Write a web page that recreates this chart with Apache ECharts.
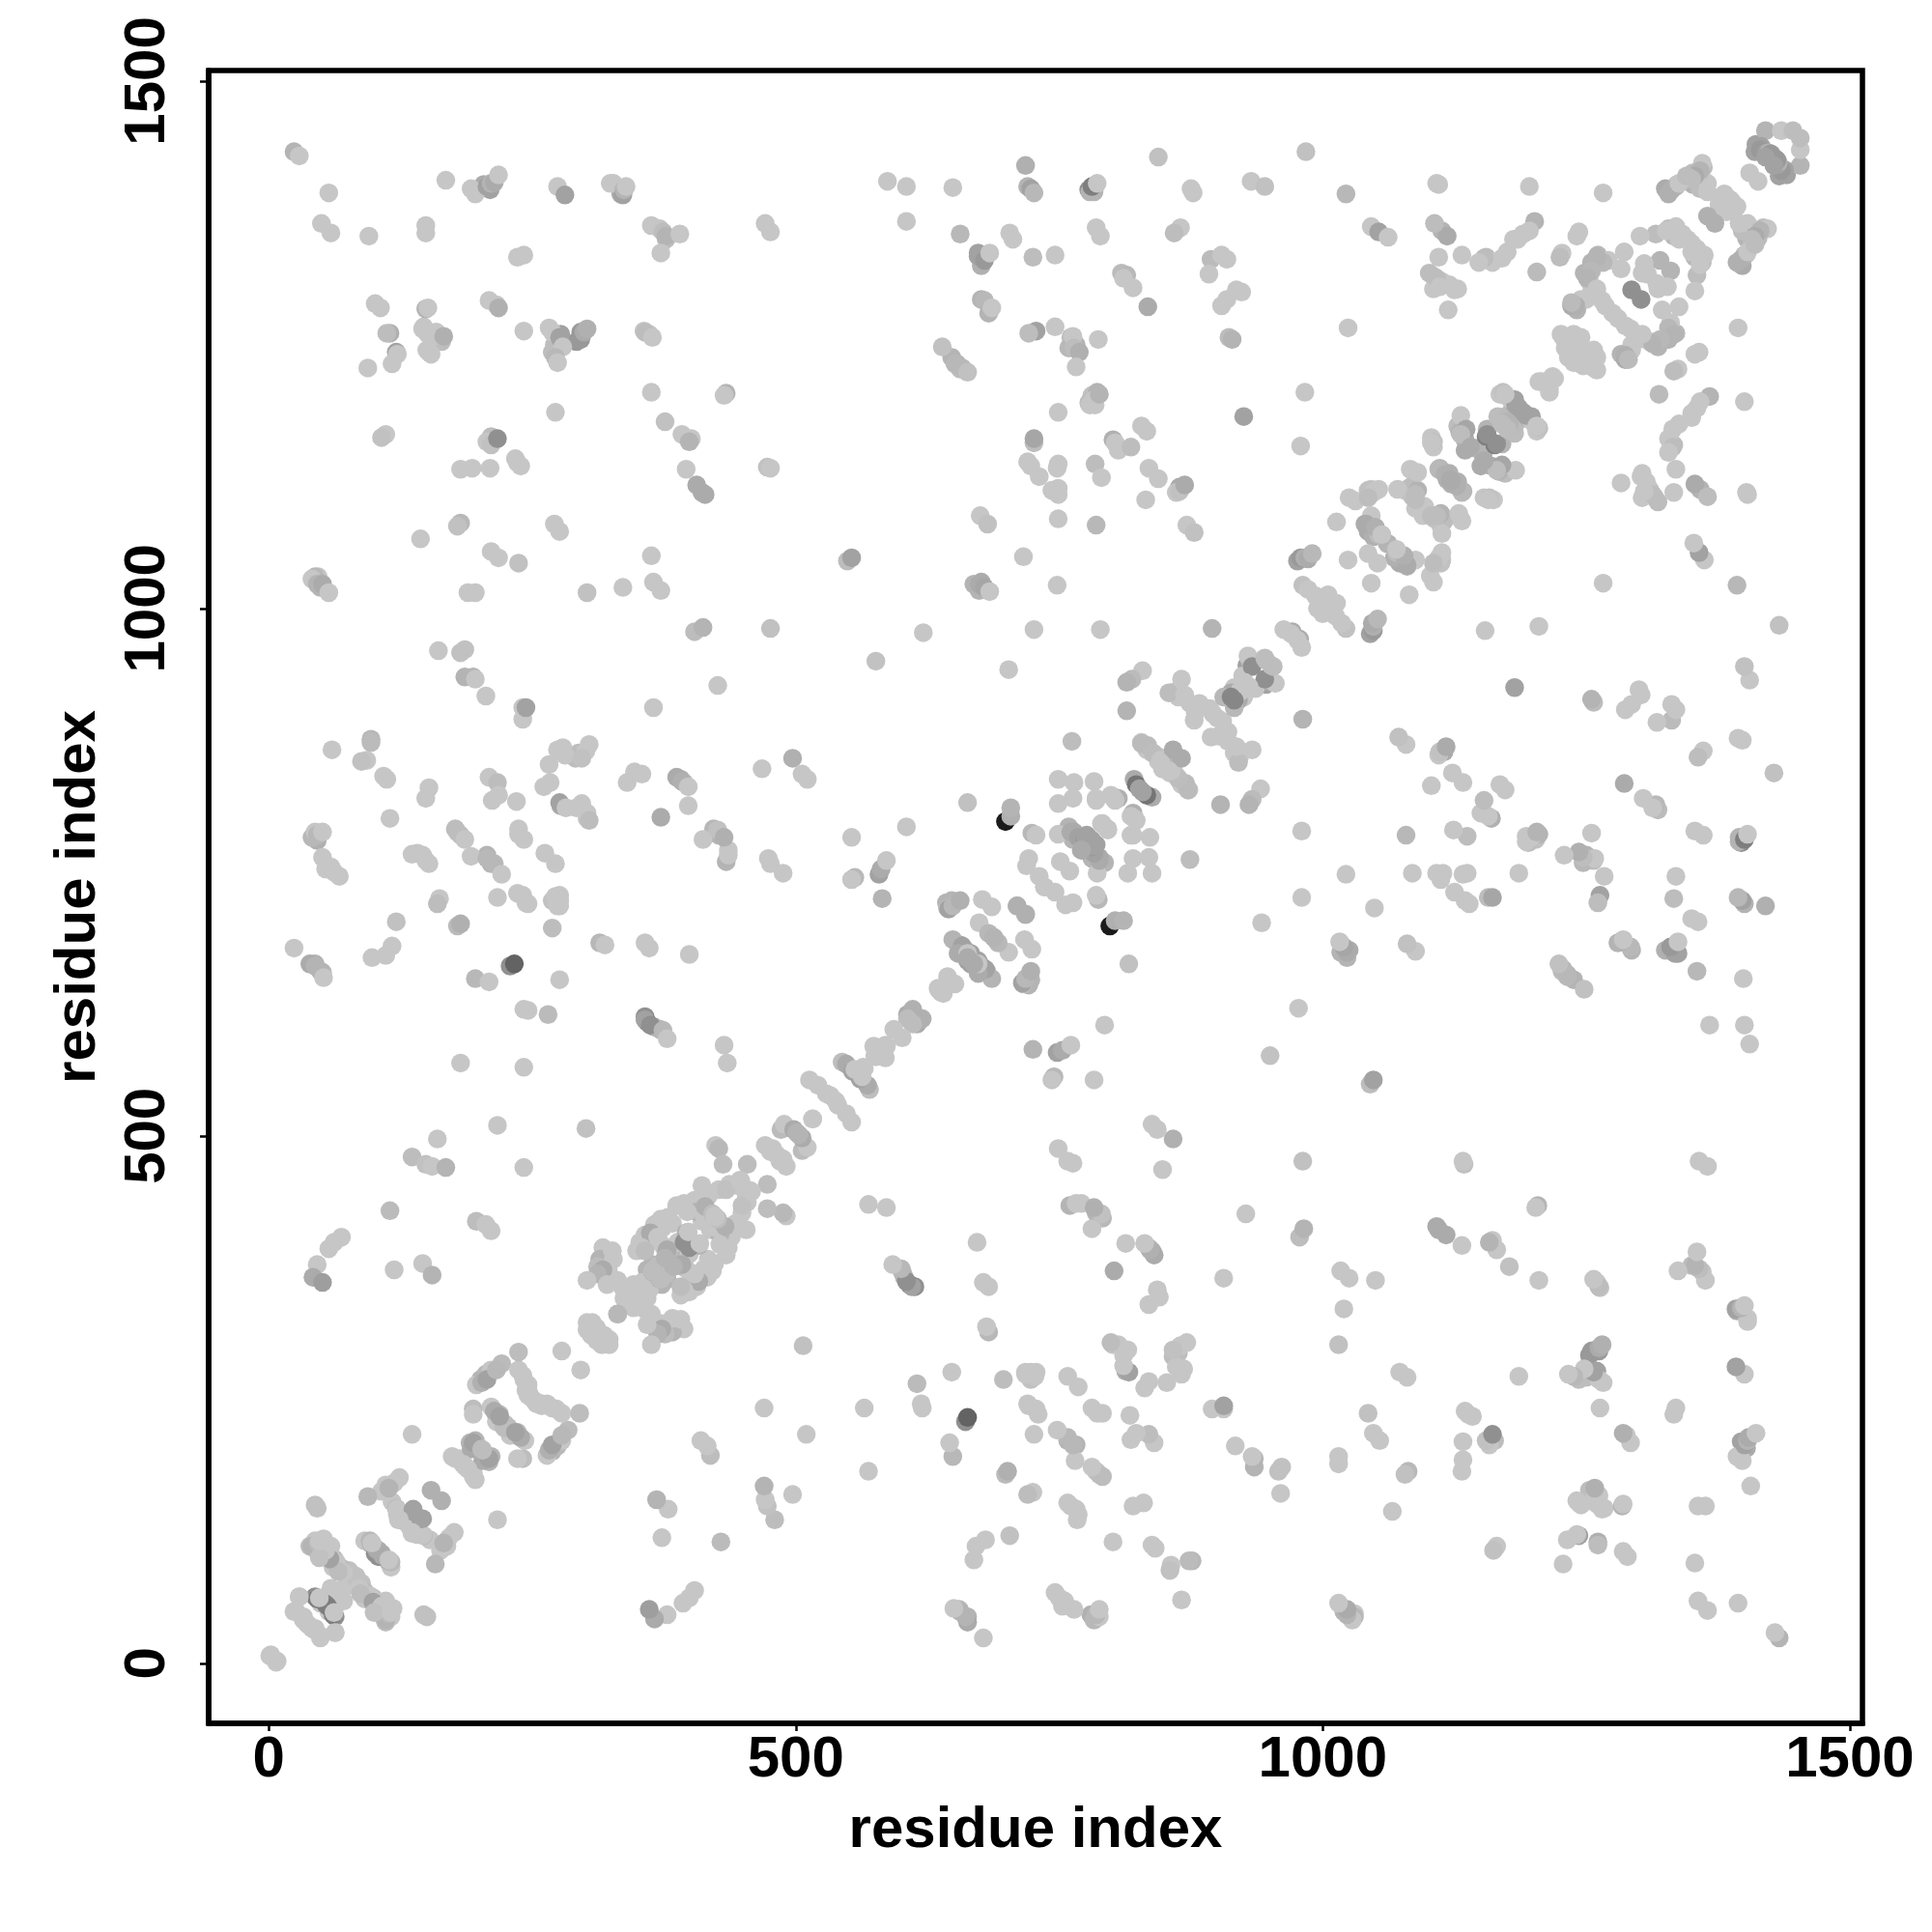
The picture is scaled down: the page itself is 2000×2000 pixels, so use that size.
<!DOCTYPE html>
<html><head><meta charset="utf-8">
<script src="https://cdn.jsdelivr.net/npm/echarts@6/dist/echarts.min.js"></script>
<style>html,body{margin:0;background:#fff}#c{width:2000px;height:2000px}</style></head>
<body><div id="c"></div>
<script>
const tickValues = [0, 500, 1000, 1500];
const axisTitle = 'residue index';
// contacts read as [i, j, score]; score omitted means lowest. The map is symmetric, so each is drawn at (i,j) and (j,i).
const contactsA = [[24,1433,.1],[29,1429],[57,1394],[50,1365],[59,1356],[95,1353],[149,1363],[149,1356],[168,1406],[192,1398],[196,1393],[207,1400,.2],[211,1403,.1],[214,1404,.15],[218,1411],[274,1400],[281,1392,.2],[324,1403],[336,1392,.2],[337,1397,.1],[339,1400],[363,1363],[374,1357,.05],[377,1353,.1],[390,1355],[372,1337],[236,1333],[242,1335],[101,1289],[106,1285],[149,1284,.1],[151,1285],[209,1292],[216,1288],[218,1285,.12],[115,1261,.12],[112,1261,.05],[146,1265],[151,1260],[157,1258],[166,1258,.12],[154,1241],[150,1245],[121,1243,.2],[122,1241],[117,1232],[94,1228],[242,1263],[266,1266],[269,1262],[276,1257,.2],[279,1248],[272,1238,.08],[274,1233],[296,1255,.25],[299,1262,.15],[302,1265,.12],[357,1262,.05],[364,1257],[363,1205],[434,1204,.1],[432,1202],[272,1186],[376,1177,.03],[392,1165],[401,1161],[399,1158,.1],[111,1165],[107,1162,.03],[211,1155,.03],[217,1161,.3],[234,1142],[239,1135],[236,1138],[182,1132],[193,1133],[210,1133],[396,1132],[406,1117,.15],[411,1110,.15],[414,1108,.15],[182,1081,.08],[179,1078,.03],[144,1066],[271,1080],[276,1073],[211,1054],[218,1048],[237,1043,.03],[363,1050],[41,1028],[46,1023,.1],[51,1023,.15],[57,1015],[189,1015],[196,1015],[302,1015,.03],[336,1020],[365,1025],[372,1017]];
const contactsB = [[471,1365],[476,1357],[473,1134,.03],[476,1133],[587,1405],[605,1400],[649,1399],[605,1367],[718,1420,.12],[720,1400,.1],[723,1398,.2],[726,1394,.08],[783,1395,.1],[781,1400,.4],[786,1403],[844,1428,.03],[875,1398],[877,1394],[932,1405],[945,1400,.03],[984,1433,.03],[656,1355,.08],[703,1356],[706,1350],[673,1334,.2],[679,1330,.25],[684,1337],[725,1333,.05],[746,1335],[785,1361],[789,1353],[865,1361],[859,1356,.05],[814,1316,.08],[811,1313],[820,1304],[834,1286,.15],[894,1331,.06],[904,1335],[909,1331],[892,1317],[918,1302],[923,1300],[909,1293],[904,1287],[679,1292,.08],[684,1283,.1],[686,1285],[728,1263,.2],[721,1261,.05],[746,1267],[763,1258],[764,1247,.05],[769,1243,.12],[766,1229],[787,1255],[911,1257,.05],[914,1255,.1],[639,1248,.03],[651,1232,.08],[658,1228,.08],[663,1224,.03],[779,1193],[783,1198],[788,1203,.1],[749,1186],[925,1182,.2],[983,1205],[726,1157,.05],[726,1161,.18],[828,1173],[833,1168],[801,1160,.12],[803,1157],[806,1150],[818,1153,.05],[979,1154],[720,1139],[723,1135],[731,1125],[749,1137],[748,1133],[749,1114],[743,1112],[749,1108],[784,1137,.05],[790,1124],[835,1133],[844,1123],[832,1103],[864,1111,.03],[869,1117,.15],[675,1088],[682,1080,.03],[749,1085],[785,1079,.08],[871,1079],[878,1072,.03],[549,1045,.05],[553,1048,.2],[716,1049],[674,1023,.15],[679,1020,.18],[684,1016],[748,1022]];
const contactsC = [[976,1045,.2],[979,1048,.25],[983,1048,.12],[986,1047,.15],[990,1052,.08],[981,1022,.03],[986,1018],[1022,1393,.08],[1108,1403],[1110,1402],[1196,1400],[1266,1394],[1420,1453,.1],[1435,1453],[1446,1453,.05],[1416,1438,.2],[1415,1435,.25],[1421,1432,.2],[1423,1432,.1],[1426,1430,.2],[1431,1425,.25],[1420,1428,.2],[1405,1413],[1360,1422],[1358,1415,.1],[1353,1410,.15],[1350,1407,.05],[1365,1395],[1335,1400,.05],[1331,1397,.12],[1338,1403],[1345,1410,.05],[1386,1388],[1378,1382],[1365,1372,.12],[1335,1362],[1341,1355],[1346,1350],[1316,1355,.05],[1326,1358],[1301,1353],[1286,1338],[1283,1322],[1266,1328,.08],[1260,1333,.1],[1255,1320,.08],[1251,1313,.1],[1260,1303],[1245,1293],[1240,1287,.12],[1236,1290,.06],[1268,1287],[1275,1280],[1320,1330,.1],[1305,1327],[1303,1318],[1308,1317],[1293,1302,.3],[1226,1260],[1230,1247],[1245,1257],[1233,1242],[1205,1215],[1208,1215],[1218,1220],[1243,1357],[1241,1353],[1227,1337],[1225,1333,.05],[1203,1319,.06],[1201,1367,.1],[1196,1358],[1181,1350],[1170,1332],[1153,1332,.05],[1148,1328],[1132,1335],[1113,1358,.1],[1118,1353,.15],[1106,1365,.05],[1110,1333],[1101,1318,.05],[1108,1313,.05],[1111,1305],[1128,1303],[1119,1283],[1046,1362],[1053,1357,.2],[1062,1352],[1024,1266],[1171,1205,.03],[1178,1198],[1183,1193,.2],[1198,1182,.2],[1203,1173],[1131,1183],[1136,1170,.18],[1131,1165,.05],[1140,1153,.15],[1156,1165,.3],[1175,1177,.1],[1170,1175,.05],[1105,1158,.03],[1103,1157],[1083,1132],[1090,1129],[1110,1132,.08],[1116,1127,.12],[1121,1122,.15],[1025,1105],[1031,1102],[1048,1110],[1043,1105,.05],[1071,1113],[1088,1108,.05],[1090,1098],[1103,1088,.05],[1046,1088],[1041,1080,.15],[1050,1077,.12],[1056,1070],[1013,1082],[1024,1046],[1043,1052],[993,1012],[1005,1013],[1000,1007],[995,1000]];
const contactsD = [[476,981,.03],[621,977],[726,980],[789,980],[895,981,.1],[576,950,.02],[702,942],[971,978,.15],[963,980],[976,970],[829,941],[819,933,.06],[814,930,.1],[814,903,.1],[866,933],[854,920,.05],[869,918],[879,905],[893,905],[929,955],[933,945,.3],[946,951,.05],[953,945,.05],[926,930],[906,916,.08],[913,916,.35],[762,874,.05],[834,870,.06],[828,872,.06],[839,863,.05],[846,856],[858,866,.15],[854,846],[879,901],[878,894],[497,858,.12],[506,843],[511,838],[468,848],[749,838],[764,835],[749,815],[763,820],[783,836],[785,820],[799,823],[806,820,.12],[821,838,.15],[823,833,.45],[829,826,.2],[663,816,.03],[699,798,.95],[704,803,.12],[704,811,.1],[553,783],[605,793],[474,763],[476,758],[488,749],[579,748,.2],[581,753,.15],[586,761],[556,745,.08],[553,743],[582,725,.1],[724,787,.08],[728,785],[749,786],[761,788,.15],[768,783,.2],[774,781,.25],[783,775,.2],[771,771,.15],[791,796],[796,790],[818,803],[821,801],[818,785],[721,763],[719,756],[731,746],[736,736],[751,760],[645,715,.2],[649,718,.08],[656,723,.12],[677,724],[686,717],[710,718,.12],[718,710,.12],[674,702],[683,692,.08],[688,688,.1],[649,686,.1],[658,680,.2],[654,673,.15],[663,673],[669,663,.15],[644,651],[636,638],[640,635],[606,615,.15],[611,620,.12],[606,611,.05],[593,601],[574,585],[586,585],[576,575],[544,570,.05],[548,568,.15],[554,561,.2],[563,556],[564,565],[513,553],[521,548],[529,540],[538,533],[516,516],[486,506,.06],[489,511],[498,506,.15],[503,501,.1],[471,491],[476,485],[488,478],[483,481]];
const contactsE = [[161,960],[182,958,.03],[186,961,.03],[186,935,.1],[194,935,.1],[196,933],[206,917],[241,895],[241,906],[244,906,.2],[404,978,.05],[412,982,.1],[426,927],[365,906],[60,866],[97,876,.08],[97,873,.06],[93,856],[88,855,.03],[112,838],[109,841],[152,830],[149,820],[209,840],[217,835,.05],[212,818],[218,823],[235,817],[274,866],[281,861],[304,871],[301,865],[297,858,.03],[266,852],[267,835],[261,831],[276,816,.2],[282,811],[297,815],[302,801],[304,799,.05],[347,845],[354,843],[340,835],[392,836,.12],[398,831],[398,813],[372,802,.15],[115,801],[46,785,.08],[51,788],[51,764],[59,755],[67,746],[136,767],[146,766],[152,758],[179,788,.05],[186,781],[192,765],[207,763,.08],[214,758,.08],[221,748],[237,786],[242,781],[262,768],[272,758],[236,730],[246,720],[217,726],[162,725],[160,720,.05],[276,723],[272,727],[276,718],[269,697,.05],[179,699,.06],[182,701,.12],[121,703,.03],[24,678],[44,661,.1],[49,656,.1],[52,650],[98,669],[111,671],[117,680],[229,661,.3],[233,663,.55],[196,649,.08],[209,646],[276,648],[314,683,.08],[319,681],[357,683],[361,678],[399,672],[412,781],[426,790,.03],[432,783,.12],[434,760,.1],[436,766],[242,620],[246,619],[265,615,.06],[357,610,.2],[362,605,.3],[374,600,.08],[378,592],[432,586],[435,569],[182,569],[242,565],[217,510],[301,507,.03],[160,497],[136,480,.05],[149,473,.03],[155,471],[168,470,.1],[242,470],[424,491],[427,488,.08],[431,473,.05],[454,473,.05]];
const contactsF = [[115,429,.06],[197,419,.05],[206,416],[211,410],[69,404],[62,399],[57,393],[46,378],[42,366,.15],[51,361,.22],[119,373],[146,379],[155,368,.1],[411,453],[434,449,.03],[392,434],[414,433,.12],[421,426,.05],[447,458],[457,448],[397,428],[424,423],[383,417],[374,413],[362,408,.15],[354,394],[377,389,.1],[396,408,.12],[394,399,.3],[409,398],[369,404],[392,378,.15],[384,376,.1],[364,371,.1],[372,364,.05],[357,391,.05],[326,391],[327,383],[317,373,.15],[312,369,.1],[321,359],[302,363],[341,353],[352,353],[344,341],[331,331,.08],[302,316],[311,318],[306,311],[278,296],[237,295,.05],[197,264],[202,266,.12],[207,269,.2],[216,278,.08],[241,273],[246,264],[246,254],[259,246],[194,241,.05],[194,236],[214,239,.15],[219,231],[224,223,.05],[234,219,.2],[136,217],[192,203,.15],[194,209,.2],[202,203,.05],[177,194],[184,189],[119,171],[114,166,.1],[94,158,.08],[154,164,.12],[122,146],[137,146,.2],[144,137,.2],[124,136],[136,123],[46,147,.03],[44,150,.03],[41,111,.1],[47,114,.06],[59,111],[59,98,.08],[64,96],[96,116,.08],[102,108,.15],[107,104,.15],[114,98],[81,83,.03],[71,86],[61,66],[29,63],[46,61,.4],[56,54,.4],[62,48],[87,66,.05],[99,58,.2],[107,54],[100,48,.03],[116,48],[24,49],[32,43],[41,33],[49,26],[63,29],[2,8],[7,1]];
// further contacts read inside the dense overlapping clusters
const contactsG = [[349,391],[352,399],[357,406],[366,416],[372,421],[379,423],[387,434],[394,436],[404,439],[417,443],[427,449],[437,454],[444,453],[377,391,.15],[374,396],[367,401],[384,381],[392,391,.08],[364,378,.1],[359,373,.1],[369,366],[377,369,.05],[404,396,.05],[399,388],[411,419],[406,428,.1],[416,429,.1],[424,413],[317,394],[314,383,.1],[312,376,.05],[322,373],[324,366],[331,363],[336,356],[346,359],[354,361],[347,348],[337,346],[302,323],[307,323],[201,269,.1],[206,274,.08],[211,278],[221,284,.06],[237,278],[242,269],[246,259],[252,249],[259,244],[211,243],[219,236,.05],[216,229],[222,228],[227,224,.05],[229,219],[191,209,.1],[196,211,.1],[174,196],[181,194],[187,186],[107,163],[111,169],[124,176],[117,153],[122,141],[126,138],[134,129],[141,128],[147,121,.05],[39,111,.05],[44,116],[52,118],[57,101,.05],[62,99,.08],[91,116],[97,113,.1],[101,104,.3],[67,68],[59,71],[76,74],[82,83,.03],[76,88,.03],[91,68,.05],[94,63,.1],[106,58],[109,43],[114,46],[91,61],[44,63,.3],[49,58,.1],[57,49],[36,38],[44,33],[656,681,.15],[661,676,.1],[666,670],[673,666,.2],[663,666,.2],[643,721,.1],[648,723,.1],[644,716,.06],[759,793,.1],[764,788,.15],[769,780,.2],[776,785,.2],[781,780,.2],[774,771,.15],[763,781,.1],[828,873],[833,866],[843,860],[838,863],[848,848],[853,850,.1],[844,855],[859,921],[863,916],[874,910],[883,910],[896,900],[928,946,.2],[931,950,.1],[916,925],[924,936],[913,920,.15],[921,921],[1040,1080,.12],[1043,1073,.15],[1048,1068,.12],[1053,1070,.05],[1061,1062,.1],[1046,1113],[1043,1112,.03],[1053,1113],[1078,1112],[1083,1115,.05],[1090,1112,.1],[1096,1097],[1095,1088],[1106,1085,.03],[1103,1162],[1105,1153],[1111,1133,.1],[1118,1122,.12],[1120,1128,.12],[1128,1173,.05],[1130,1167,.1],[1135,1160,.15],[1135,1150,.15],[1145,1152,.1],[1156,1170,.1],[1155,1163,.4],[1166,1182,.05],[1175,1183,.06],[1173,1173,.1],[1168,1203],[1173,1202],[1180,1195,.1],[1186,1190,.2],[1191,1185,.2],[1231,1247],[1235,1240],[1228,1257],[1238,1260],[1241,1250],[1238,1233],[1255,1300],[1250,1293],[1241,1283,.1],[1236,1287,.15],[1265,1292],[1248,1318,.1],[1255,1328,.1],[1261,1335,.08],[1271,1330],[1253,1310],[1328,1360,.06],[1333,1353,.08],[1338,1350],[1325,1398,.15],[1328,1393,.12],[1336,1402],[1348,1408,.1],[1351,1413,.05],[1351,1402,.1],[1358,1398,.05],[1361,1418,.05],[1365,1403],[1388,1385],[1381,1393],[1376,1383],[1370,1370,.12],[1411,1440,.2],[1410,1433,.2],[1421,1428,.15],[1155,1333,.05],[1161,1328],[1175,1338],[1185,1350],[1190,1355],[1105,1315,.05],[1113,1310],[1105,1303],[1120,1307],[1125,1302],[210,1397,.2],[204,1402,.15],[334,1393,.15],[327,1403],[371,1360],[377,1350,.05],[147,1267],[159,1262],[164,1253,.05],[152,1243],[296,1262,.25],[292,1253,.25],[271,1250,.05],[269,1243,.05],[277,1260,.2],[356,1263],[361,1260],[47,1030],[49,1020,.1],[44,1030,.08],[211,1163,.05],[207,1158],[778,1397,.3],[779,1395,.1],[673,1337,.2],[676,1325,.12],[679,1333,.1],[676,1293,.1],[683,1280,.1],[809,1318,.06],[781,1202,.03],[778,1195,.05],[786,1205,.1],[784,1193],[761,1257,.05],[759,1247,.08],[766,1250,.1],[653,1232,.1],[648,1238,.1],[656,1227,.05],[676,1025,.15],[669,1023,.1],[674,1017,.1],[864,1115,.15],[861,1110],[291,858,.05],[294,863,.05],[279,868],[46,780,.12],[41,783,.08],[44,788],[57,755],[62,750],[54,753],[44,663,.1],[39,663,.15],[51,655,.08],[211,758,.1],[207,766,.1],[182,785,.03],[177,791,.05],[141,768],[149,761],[237,791],[241,728],[244,721],[269,723,.03],[276,728],[274,718],[297,811],[302,806],[292,811],[277,813,.15],[357,613,.3],[359,608,.5],[366,603,.1],[371,601,.1],[391,838,.12],[394,835,.05],[387,840,.15],[422,791,.08],[427,785,.1],[436,771]];

const contacts = [...contactsG, ...contactsA, ...contactsB, ...contactsC, ...contactsD, ...contactsE, ...contactsF];
const points = [];
contacts.forEach(c => {
  const s = c[2] || 0;
  points.push([c[0], c[1], s]);
  points.push([c[1], c[0], s]);
});

const font = '"Liberation Sans", Arial, sans-serif';
const chart = echarts.init(document.getElementById('c'), null, {renderer: 'canvas'});
function axis(extra) {
  return Object.assign({
    type: 'value',
    name: axisTitle,
    nameLocation: 'middle',
    nameTextStyle: {fontFamily: font, fontWeight: 'bold', fontSize: 60, color: '#000'},
    splitLine: {show: false},
    axisLine: {show: true, onZero: false, lineStyle: {color: '#000', width: 5.5}},
    axisTick: {show: true, length: 8, lineStyle: {color: '#000', width: 2.5}, customValues: tickValues},
    axisLabel: {show: true, fontFamily: font, fontWeight: 'bold', fontSize: 60, color: '#000', hideOverlap: false, customValues: tickValues, showMinLabel: true, showMaxLabel: true, formatter: v => String(v)}
  }, extra);
}
const xa = axis({min: -57, max: 1512, nameGap: 81});
xa.axisLabel.margin = 8;
const ya = axis({min: -57, max: 1510, nameGap: 105});
ya.axisLabel.rotate = 90;
ya.axisLabel.margin = 33;
ya.axisTick.length = 9;
ya.nameRotate = 90;
chart.setOption({
  animation: false,
  backgroundColor: '#fff',
  grid: {left: 216, top: 73, width: 1712, height: 1711, show: true, borderColor: '#000', borderWidth: 5.5, backgroundColor: 'transparent', containLabel: false},
  xAxis: xa,
  yAxis: ya,
  series: [{
    type: 'scatter',
    data: points,
    symbol: 'circle',
    symbolSize: 19.5,
    silent: true,
    large: false,
    itemStyle: {opacity: 1, color: p => { const g = Math.round(198 - 180 * p.value[2]); return `rgb(${g},${g},${g})`; }}
  }]
});
</script></body></html>
